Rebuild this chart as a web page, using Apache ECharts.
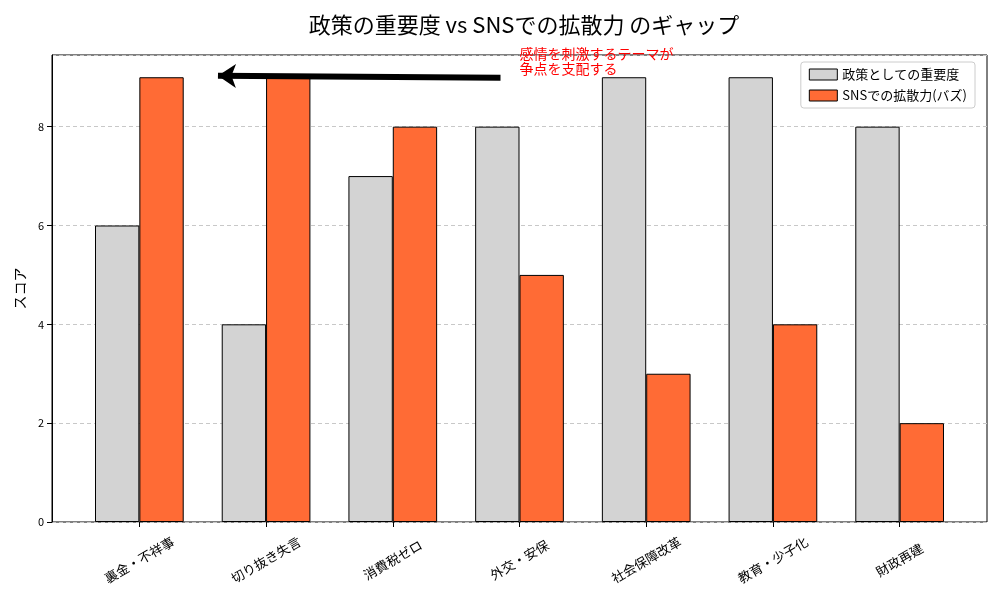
<!DOCTYPE html>
<html>
<head>
<meta charset="utf-8">
<script src="https://cdn.jsdelivr.net/npm/echarts@6/dist/echarts.min.js"></script>
<style>
html, body { margin: 0; padding: 0; background: #fff; }
#chart { width: 1000px; height: 600px; }
</style>
</head>
<body>
<div id="chart"></div>
<script>
var categories = ['裏金・不祥事', '切り抜き失言', '消費税ゼロ', '外交・安保', '社会保障改革', '教育・少子化', '財政再建'];
var importance = [6, 4, 7, 8, 9, 9, 8];
var buzz = [9, 9, 8, 5, 3, 4, 2];
var yTicks = [0, 2, 4, 6, 8];
// annotation in category-index / score units
var arrowFrom = [2.85, 8.99];
var arrowTo = [0.62, 9.03];
var noteAt = [3.0, 9.62];
var noteText = '感情を刺激するテーマが\n争点を支配する';

var font = '"Noto Sans CJK JP", "DejaVu Sans", sans-serif';
var yMax = 9.45;
var xMin = -0.69;
var xMax = 6.69;

var chart = echarts.init(document.getElementById('chart'));

var option = {
	backgroundColor: '#fff',
	animation: false,
	textStyle: { fontFamily: font },
	title: {
		text: '政策の重要度 vs SNSでの拡散力 のギャップ',
		left: 519,
		textAlign: 'center',
		top: 9,
		textStyle: { fontFamily: font, fontSize: 22, fontWeight: 'normal', color: '#000' }
	},
	legend: {
		right: 25,
		top: 62,
		orient: 'vertical',
		icon: 'rect',
		itemWidth: 28,
		itemHeight: 11,
		itemGap: 8,
		padding: [6, 8],
		borderColor: '#ccc',
		borderWidth: 1,
		borderRadius: 3,
		backgroundColor: '#fff',
		itemStyle: { borderWidth: 1, borderColor: '#000' },
		textStyle: { fontFamily: font, fontSize: 13, color: '#000' },
		data: ['政策としての重要度', 'SNSでの拡散力(バズ)']
	},
	grid: [
		{ left: 76, right: 37, top: 55, bottom: 78 },
		{ left: 52, right: 13, top: 55, bottom: 78, show: true, borderColor: '#000', borderWidth: 1, backgroundColor: 'transparent' }
	],
	xAxis: [
		{
			type: 'category',
			gridIndex: 0,
			data: categories,
			axisLine: { show: false },
			axisTick: { show: true, alignWithLabel: true, length: 5, lineStyle: { color: '#000' } },
			axisLabel: {
				rotate: 30,
				align: 'center',
				verticalAlign: 'middle',
				margin: 38,
				color: '#000',
				fontSize: 13,
				fontFamily: font
			}
		},
		{
			type: 'value',
			gridIndex: 1,
			min: xMin,
			max: xMax,
			axisLine: { show: false },
			axisTick: { show: false },
			axisLabel: { show: false },
			splitLine: { show: false }
		}
	],
	yAxis: [
		{
			type: 'value',
			gridIndex: 0,
			min: 0,
			max: yMax,
			show: false
		},
		{
			type: 'value',
			gridIndex: 1,
			min: 0,
			max: yMax,
			interval: 2,
			name: 'スコア',
			nameLocation: 'middle',
			nameGap: 25,
			nameRotate: 90,
			nameTextStyle: { fontFamily: font, fontSize: 14, color: '#000' },
			axisLine: { show: true, onZero: false, lineStyle: { color: '#000' } },
			axisTick: { show: true, length: 5, lineStyle: { color: '#000' } },
			axisLabel: {
				color: '#000',
				fontSize: 11,
				fontFamily: font,
				showMaxLabel: false,
				formatter: function (v) { return yTicks.indexOf(v) >= 0 ? String(v) : ''; }
			},
			splitLine: { show: true, lineStyle: { color: '#c8c8c8', type: [4, 3], width: 1 } }
		}
	],
	series: [
		{
			name: '政策としての重要度',
			type: 'bar',
			xAxisIndex: 0,
			yAxisIndex: 0,
			data: importance,
			barGap: '0%',
			barCategoryGap: '30%',
			itemStyle: { color: '#d3d3d3', borderColor: '#000', borderWidth: 1 },
			z: 3
		},
		{
			name: 'SNSでの拡散力(バズ)',
			type: 'bar',
			xAxisIndex: 0,
			yAxisIndex: 0,
			data: buzz,
			barGap: '0%',
			barCategoryGap: '30%',
			itemStyle: { color: '#ff6b35', borderColor: '#000', borderWidth: 1 },
			z: 3
		},
		{
			name: 'note',
			type: 'line',
			xAxisIndex: 1,
			yAxisIndex: 1,
			data: [arrowFrom, arrowTo],
			symbol: 'none',
			lineStyle: { opacity: 0 },
			silent: true,
			z: 5,
			markLine: {
				silent: true,
				symbol: ['none', 'arrow'],
				symbolSize: [18, 18],
				label: { show: false },
				lineStyle: { color: '#000', width: 6, type: 'solid', opacity: 1 },
				data: [[{ coord: arrowFrom }, { coord: arrowTo }]]
			}
		}
	]
};

chart.setOption(option);

// place the note text at its data position
var p = chart.convertToPixel({ xAxisIndex: 1, yAxisIndex: 1 }, noteAt);
chart.setOption({
	graphic: [{
		type: 'text',
		x: p[0],
		y: p[1],
		z: 10,
		style: {
			text: noteText,
			fill: '#ff0000',
			font: '14px ' + font,
			lineHeight: 15,
			textAlign: 'left',
			textVerticalAlign: 'top'
		}
	}]
});
</script>
</body>
</html>
